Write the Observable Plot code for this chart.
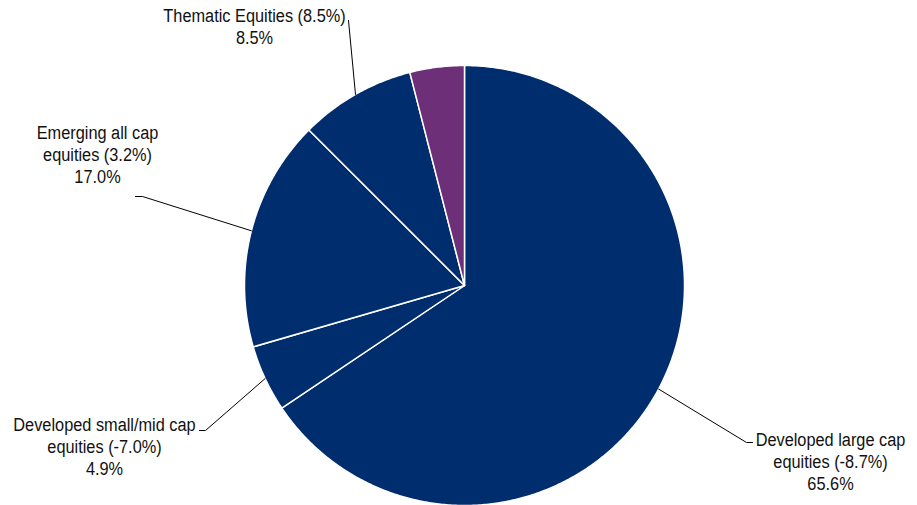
<!DOCTYPE html>
<html>
<head>
<meta charset="utf-8">
<script src="https://cdn.jsdelivr.net/npm/d3@7"></script>
<script src="https://cdn.jsdelivr.net/npm/@observablehq/plot@0.6"></script>
<style>
  html, body { margin: 0; padding: 0; background: #fff; }
</style>
</head>
<body>
<div id="chart"></div>
<script>
// ---- data ----
const names = [
  "Developed large cap\nequities (-8.7%)",
  "Developed small/mid cap\nequities (-7.0%)",
  "Emerging all cap\nequities (3.2%)",
  "Thematic Equities (8.5%)",
  ""
];
const shares = [65.6, 4.9, 17.0, 8.5, 4.0];
const valueLabels = ["65.6%", "4.9%", "17.0%", "8.5%", ""];
const colors = ["#002D6E", "#002D6E", "#002D6E", "#002D6E", "#6C2F78"];

// ---- layout (pixels) ----
const W = 917, H = 505, CX = 464, CY = 285, R = 220;
const toX = px => (px - CX) / R;
const toY = py => (CY - py) / R;
// leader elbows and label block centres, per labelled slice
const layout = [
  {pts: [[746, 442], [752, 442]], text: [830, 460]},
  {pts: [[205, 430], [199, 430]], text: [104, 445]},
  {pts: [[142, 196], [135, 196]], text: [97, 153]},
  {pts: [[348, 20]], text: [254, 25]},
  null
];

const arcs = d3.pie().sort(null).value(d => d)(shares);

// slice polygons in unit circle coordinates
const slicePts = [];
arcs.forEach((a, i) => {
  slicePts.push({slice: i, x: 0, y: 0, color: colors[i]});
  const n = Math.max(2, Math.ceil((a.endAngle - a.startAngle) / (Math.PI / 360)));
  for (let k = 0; k <= n; k++) {
    const t = a.startAngle + (a.endAngle - a.startAngle) * k / n;
    slicePts.push({slice: i, x: Math.sin(t), y: Math.cos(t), color: colors[i]});
  }
});

const leaderPts = [];
const labelData = [];
arcs.forEach((a, i) => {
  const L = layout[i];
  if (!L) return;
  const m = (a.startAngle + a.endAngle) / 2;
  leaderPts.push({id: i, x: Math.sin(m), y: Math.cos(m)});
  L.pts.forEach(([px, py]) => leaderPts.push({id: i, x: toX(px), y: toY(py)}));
  labelData.push({
    x: toX(L.text[0]), y: toY(L.text[1]),
    text: names[i] + "\n" + valueLabels[i]
  });
});

const chart = Plot.plot({
  width: W,
  height: H,
  margin: 0,
  x: {domain: [toX(0), toX(W)], axis: null},
  y: {domain: [toY(H), toY(0)], axis: null},
  color: {type: "identity"},
  style: {fontFamily: "'Liberation Sans', Arial, sans-serif", background: "#fff"},
  marks: [
    Plot.line(slicePts, {x: "x", y: "y", z: "slice", fill: "color", stroke: "#fff", strokeWidth: 1.5, curve: "linear-closed"}),
    Plot.line(leaderPts, {x: "x", y: "y", z: "id", stroke: "#000", strokeWidth: 1}),
    Plot.text(labelData, {x: "x", y: "y", text: "text", fontSize: 19, lineHeight: 1.16, textAnchor: "middle", lineAnchor: "middle", fill: "#111", className: "pie-label"})
  ]
});
// narrow the label glyphs horizontally (the reference uses a condensed face)
chart.querySelectorAll(".pie-label text").forEach(t => {
  const tr = t.getAttribute("transform") || "";
  t.setAttribute("transform", tr + " scale(0.86,1)");
});
document.getElementById("chart").appendChild(chart);
</script>
</body>
</html>
